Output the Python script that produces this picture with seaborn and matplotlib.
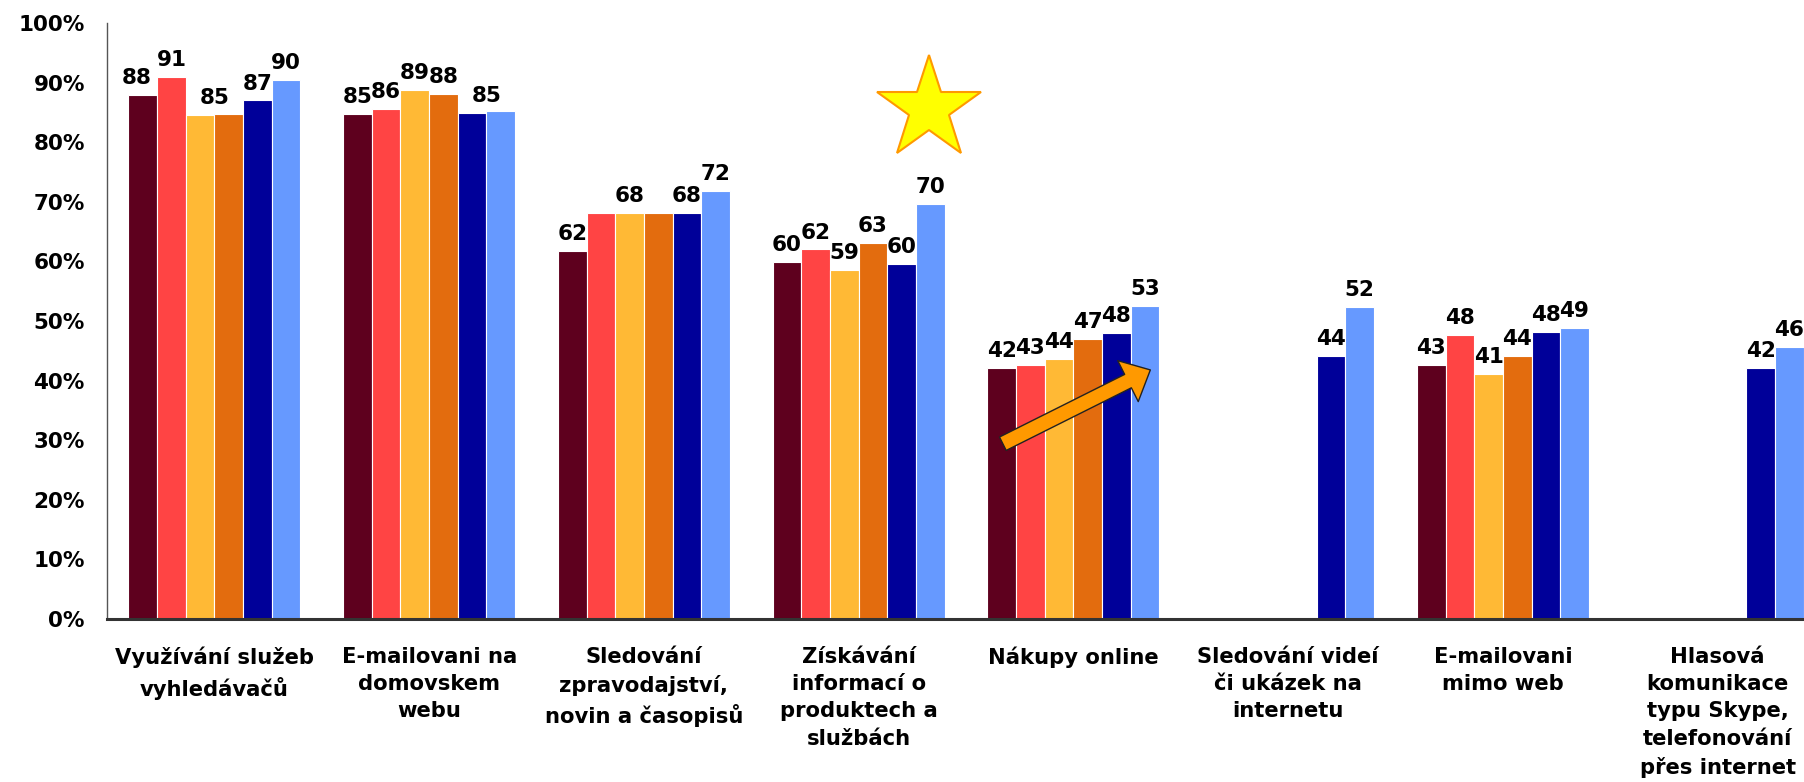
import numpy as np
import pandas as pd
import matplotlib
matplotlib.use("Agg")
import matplotlib.pyplot as plt
import seaborn as sns
from matplotlib.patches import FancyArrowPatch
from matplotlib.ticker import PercentFormatter, FixedLocator

nan = np.nan

categories = [
    "Využívání služeb\nvyhledávačů",
    "E-mailovani na\ndomovskem\nwebu",
    "Sledování\nzpravodajství,\nnovin a časopisů",
    "Získávání\ninformací o\nproduktech a\nslužbách",
    "Nákupy online",
    "Sledování videí\nči ukázek na\ninternetu",
    "E-mailovani\nmimo web",
    "Hlasová\nkomunikace\ntypu Skype,\ntelefonování\npřes internet",
]
series = ["Série 1", "Série 2", "Série 3", "Série 4", "Série 5", "Série 6"]

s1 = [88.0, 84.7, 61.7, 59.9, 42.1, nan, 42.6, nan]
s2 = [91.0, 85.6, 68.2, 62.0, 42.6, nan, 47.6, nan]
s3 = [84.5, 88.8, 68.2, 58.6, 43.6, nan, 41.1, nan]
s4 = [84.8, 88.1, 68.2, 63.1, 47.0, nan, 44.1, nan]
s5 = [87.0, 84.9, 68.2, 59.6, 48.0, 44.1, 48.1, 42.1]
s6 = [90.4, 85.2, 71.8, 69.7, 52.6, 52.4, 48.8, 45.6]

l1 = ["88", "85", "62", "60", "42", "", "43", ""]
l2 = ["91", "86", "", "62", "43", "", "48", ""]
l3 = ["85", "89", "68", "59", "44", "", "41", ""]
l4 = ["", "88", "", "63", "47", "", "44", ""]
l5 = ["87", "85", "68", "60", "48", "44", "48", "42"]
l6 = ["90", "", "72", "70", "53", "52", "49", "46"]

colors = ["#5E001E", "#FF4444", "#FFB935", "#E36C0E", "#000099", "#6699FF"]

values = [s1, s2, s3, s4, s5, s6]
labels = [l1, l2, l3, l4, l5, l6]

# a few labels sit between two bars in the original (in bar widths)
label_nudge = {(2, 0): 0.5, (4, 1): 0.5, (0, 0): -0.2}

rows = []
for sname, vals in zip(series, values):
    for cat, v in zip(categories, vals):
        if not np.isnan(v):
            rows.append({"category": cat, "series": sname, "value": v})
df = pd.DataFrame(rows)

sns.set_style("white")
plt.rcParams["font.family"] = ["DejaVu Sans"]
plt.rcParams["font.weight"] = "bold"
plt.rcParams["text.color"] = "black"
plt.rcParams["xtick.color"] = "black"
plt.rcParams["ytick.color"] = "black"
plt.rcParams["axes.labelcolor"] = "black"

fig = plt.figure(figsize=(18.04, 7.82), dpi=100)
ax = fig.add_axes([107 / 1804, 163 / 782, (1825 - 107) / 1804, 596 / 782])

sns.barplot(data=df, x="category", y="value", hue="series", order=categories,
            hue_order=series, palette=colors, width=0.8, gap=0,
            edgecolor="white", linewidth=0.8, saturation=1, legend=False,
            errorbar=None, ax=ax)

ax.set_xlim(-0.5, len(categories) - 0.5)
ax.set_ylim(0, 100)
ax.set_xlabel("")
ax.set_ylabel("")

# data labels
n = len(series)
bw = 0.8 / n
for j, (vals, labs) in enumerate(zip(values, labels)):
    for i, (v, t) in enumerate(zip(vals, labs)):
        if t == "" or np.isnan(v):
            continue
        x = i - 0.4 + (j + 0.5 + label_nudge.get((j, i), 0.0)) * bw
        ax.annotate(t, xy=(x, v), xytext=(0, 5), textcoords="offset points",
                    ha="center", va="bottom", fontsize=15.5, fontweight="bold",
                    color="black", annotation_clip=False)

# axes styling
ax.yaxis.set_major_locator(FixedLocator(np.arange(0, 101, 10)))
ax.yaxis.set_major_formatter(PercentFormatter(100, decimals=0))
ax.tick_params(axis="y", which="major", length=6, width=1, direction="out",
               pad=10, labelsize=15.5, color="#555555", labelcolor="black")
ax.set_xticks(range(len(categories)))
ax.set_xticklabels(categories, fontsize=15.2, fontweight="bold",
                   linespacing=1.46, color="black")
ax.tick_params(axis="x", which="major", length=0, pad=20)
ax.set_xticks(np.arange(-0.5, len(categories), 1.0), minor=True)
ax.tick_params(axis="x", which="minor", length=8, width=1.2, color="#555555",
               direction="out")
for lab in ax.get_yticklabels():
    lab.set_fontweight("bold")

for sp in ["top", "right"]:
    ax.spines[sp].set_visible(False)
ax.spines["left"].set_color("#555555")
ax.spines["left"].set_linewidth(1)
ax.spines["bottom"].set_color("#333333")
ax.spines["bottom"].set_linewidth(2.2)
ax.grid(False)

# decorations: star and arrow
ax.plot([3.33], [85.5], marker="*", ms=78, mfc="#FFFF00", mec="#FF9900",
        mew=1.5, clip_on=False, zorder=5)
arrow = FancyArrowPatch((3.66, 29.2), (4.37, 42.0),
                        arrowstyle="simple,head_length=1.8,head_width=3.3,tail_width=1.08",
                        mutation_scale=10, fc="#FF9900", ec="#222222", lw=1,
                        zorder=6)
ax.add_patch(arrow)

fig.savefig("out.png", dpi=100)
